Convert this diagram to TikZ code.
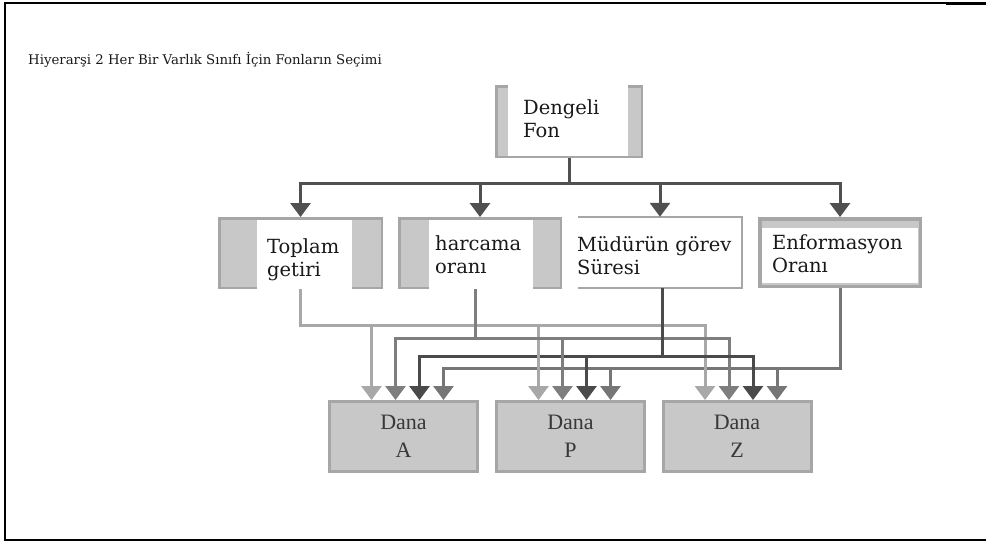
\documentclass[tikz,border=0pt]{standalone}
\usepackage{fontspec}
\setmainfont{DejaVu Serif}
\newfontfamily\danafont{Liberation Serif}
\usepackage{tikz}
\usetikzlibrary{arrows.meta,positioning,calc}
\usepackage{xcolor}

\definecolor{boxgray}{HTML}{C8C8C8}
\definecolor{edgegray}{HTML}{A6A6A6}
\definecolor{treegray}{HTML}{505050}
\definecolor{linklight}{HTML}{A8A8A8}
\definecolor{linkmid}{HTML}{7E7E7E}
\definecolor{linkdark}{HTML}{4A4A4A}
\definecolor{linkinfo}{HTML}{767676}

\tikzset{
  barbox/.style={draw=edgegray, fill=boxgray, line width=2.5pt, inner sep=0pt},
  whitepart/.style={fill=white, inner sep=0pt},
  boxtext/.style={anchor=west, align=left, inner sep=0pt, font=\fontsize{19.5}{23}\selectfont, text=black!90},
  danabox/.style={draw=edgegray, fill=boxgray, line width=3pt, minimum width=148pt, minimum height=70pt, align=center, inner sep=0pt, execute at begin node={\rule{0pt}{24pt}}, font=\danafont\fontsize{22}{28}\selectfont, text=black!78},
  tree/.style={draw=treegray, line width=3pt, -{Triangle[width=20pt,length=14pt]}},
  link/.style={line width=3pt, -{Triangle[width=20pt,length=14pt]}},
}

\begin{document}
\begin{tikzpicture}[x=1pt, y=-1pt]
    \useasboundingbox (0,0) rectangle (986,542);

    % Frame
    \draw[line width=2.5pt] (5,541) -- (5,3) -- (946,3);
    \draw[line width=3.5pt] (946,3.5) -- (986,3.5);
    \draw[line width=2pt] (5,540) -- (986,540);

    % Title
    \node[anchor=west, inner sep=0pt, font=\fontsize{13.3}{16}\selectfont, text=black!90] (title) at (28,60) {Hiyerarşi 2 Her Bir Varlık Sınıfı İçin Fonların Seçimi};

    % Top box
    \node[barbox, minimum width=145.5pt, minimum height=70.5pt] (dengeli) at (569,121.5) {};
    \node[whitepart, minimum width=120pt, minimum height=71.5pt] (dengelimid) at (568,119.75) {};
    \node[boxtext] (dengelitxt) at (523,119) {Dengeli\\Fon};

    % Criteria boxes
    \node[barbox, minimum width=162.5pt, minimum height=69.5pt] (toplam) at (300.5,253) {};
    \node[whitepart, minimum width=95pt, minimum height=69.5pt] (toplammid) at (304.5,254.25) {};
    \node[boxtext] (toplamtxt) at (267,259.5) {Toplam\\getiri};

    \node[barbox, minimum width=161.5pt, minimum height=69.5pt] (harcama) at (480,253) {};
    \node[whitepart, minimum width=104pt, minimum height=69.5pt] (harcamamid) at (481,254.25) {};
    \node[boxtext] (harcamatxt) at (435,254.5) {harcama\\oranı};

    \node[inner sep=0pt, minimum width=164pt, minimum height=71pt] (mudur) at (660,252.5) {};
    \draw[edgegray, line width=2.5pt] (mudur.north west) -- (mudur.north east) -- (mudur.south east) -- (mudur.south west);
    \node[boxtext] (mudurtxt) at (577,256) {Müdürün görev\\Süresi};

    \node[draw=edgegray, fill=boxgray, line width=3.5pt, inner sep=0pt, minimum width=160.5pt, minimum height=67.5pt] (enform) at (840,252.5) {};
    \node[whitepart, minimum width=156pt, minimum height=55pt] (enformmid) at (840,255.5) {};
    \node[boxtext] (enformtxt) at (772,254) {Enformasyon\\Oranı};

    % Funds
    \node[danabox] (danaA) at (403.5,436.5) {Dana\\A};
    \node[danabox] (danaP) at (570.5,436.5) {Dana\\P};
    \node[danabox] (danaZ) at (737,436.5) {Dana\\Z};

    % Tree arrows
    \foreach \c in {toplam,harcama,mudur,enform}
        \draw[tree] (dengeli.south) -- ++(0,25) -| (\c.north);

    % Bus levels and arrow ends
    \coordinate (busT) at (0,325);
    \coordinate (busH) at (0,338);
    \coordinate (busM) at (0,356);
    \coordinate (busE) at (0,368);
    \foreach \d in {danaA,danaP,danaZ}{
        \foreach \k/\dx in {1/-32,2/-8,3/16,4/40}
            \coordinate (\d\k) at ([xshift=\dx pt]\d.north);
    }

    % Links to funds
    \foreach \d in {danaA,danaP,danaZ}{
        \draw[link, linklight] (toplam.south) |- (\d1 |- busT) -- (\d1);
        \draw[link, linkmid] ([xshift=-5pt]harcama.south) |- (\d2 |- busH) -- (\d2);
        \draw[link, linkdark] ([xshift=2pt]mudur.south) |- (\d3 |- busM) -- (\d3);
        \draw[link, linkinfo] (enform.south) |- (\d4 |- busE) -- (\d4);
    }
\end{tikzpicture}
\end{document}
